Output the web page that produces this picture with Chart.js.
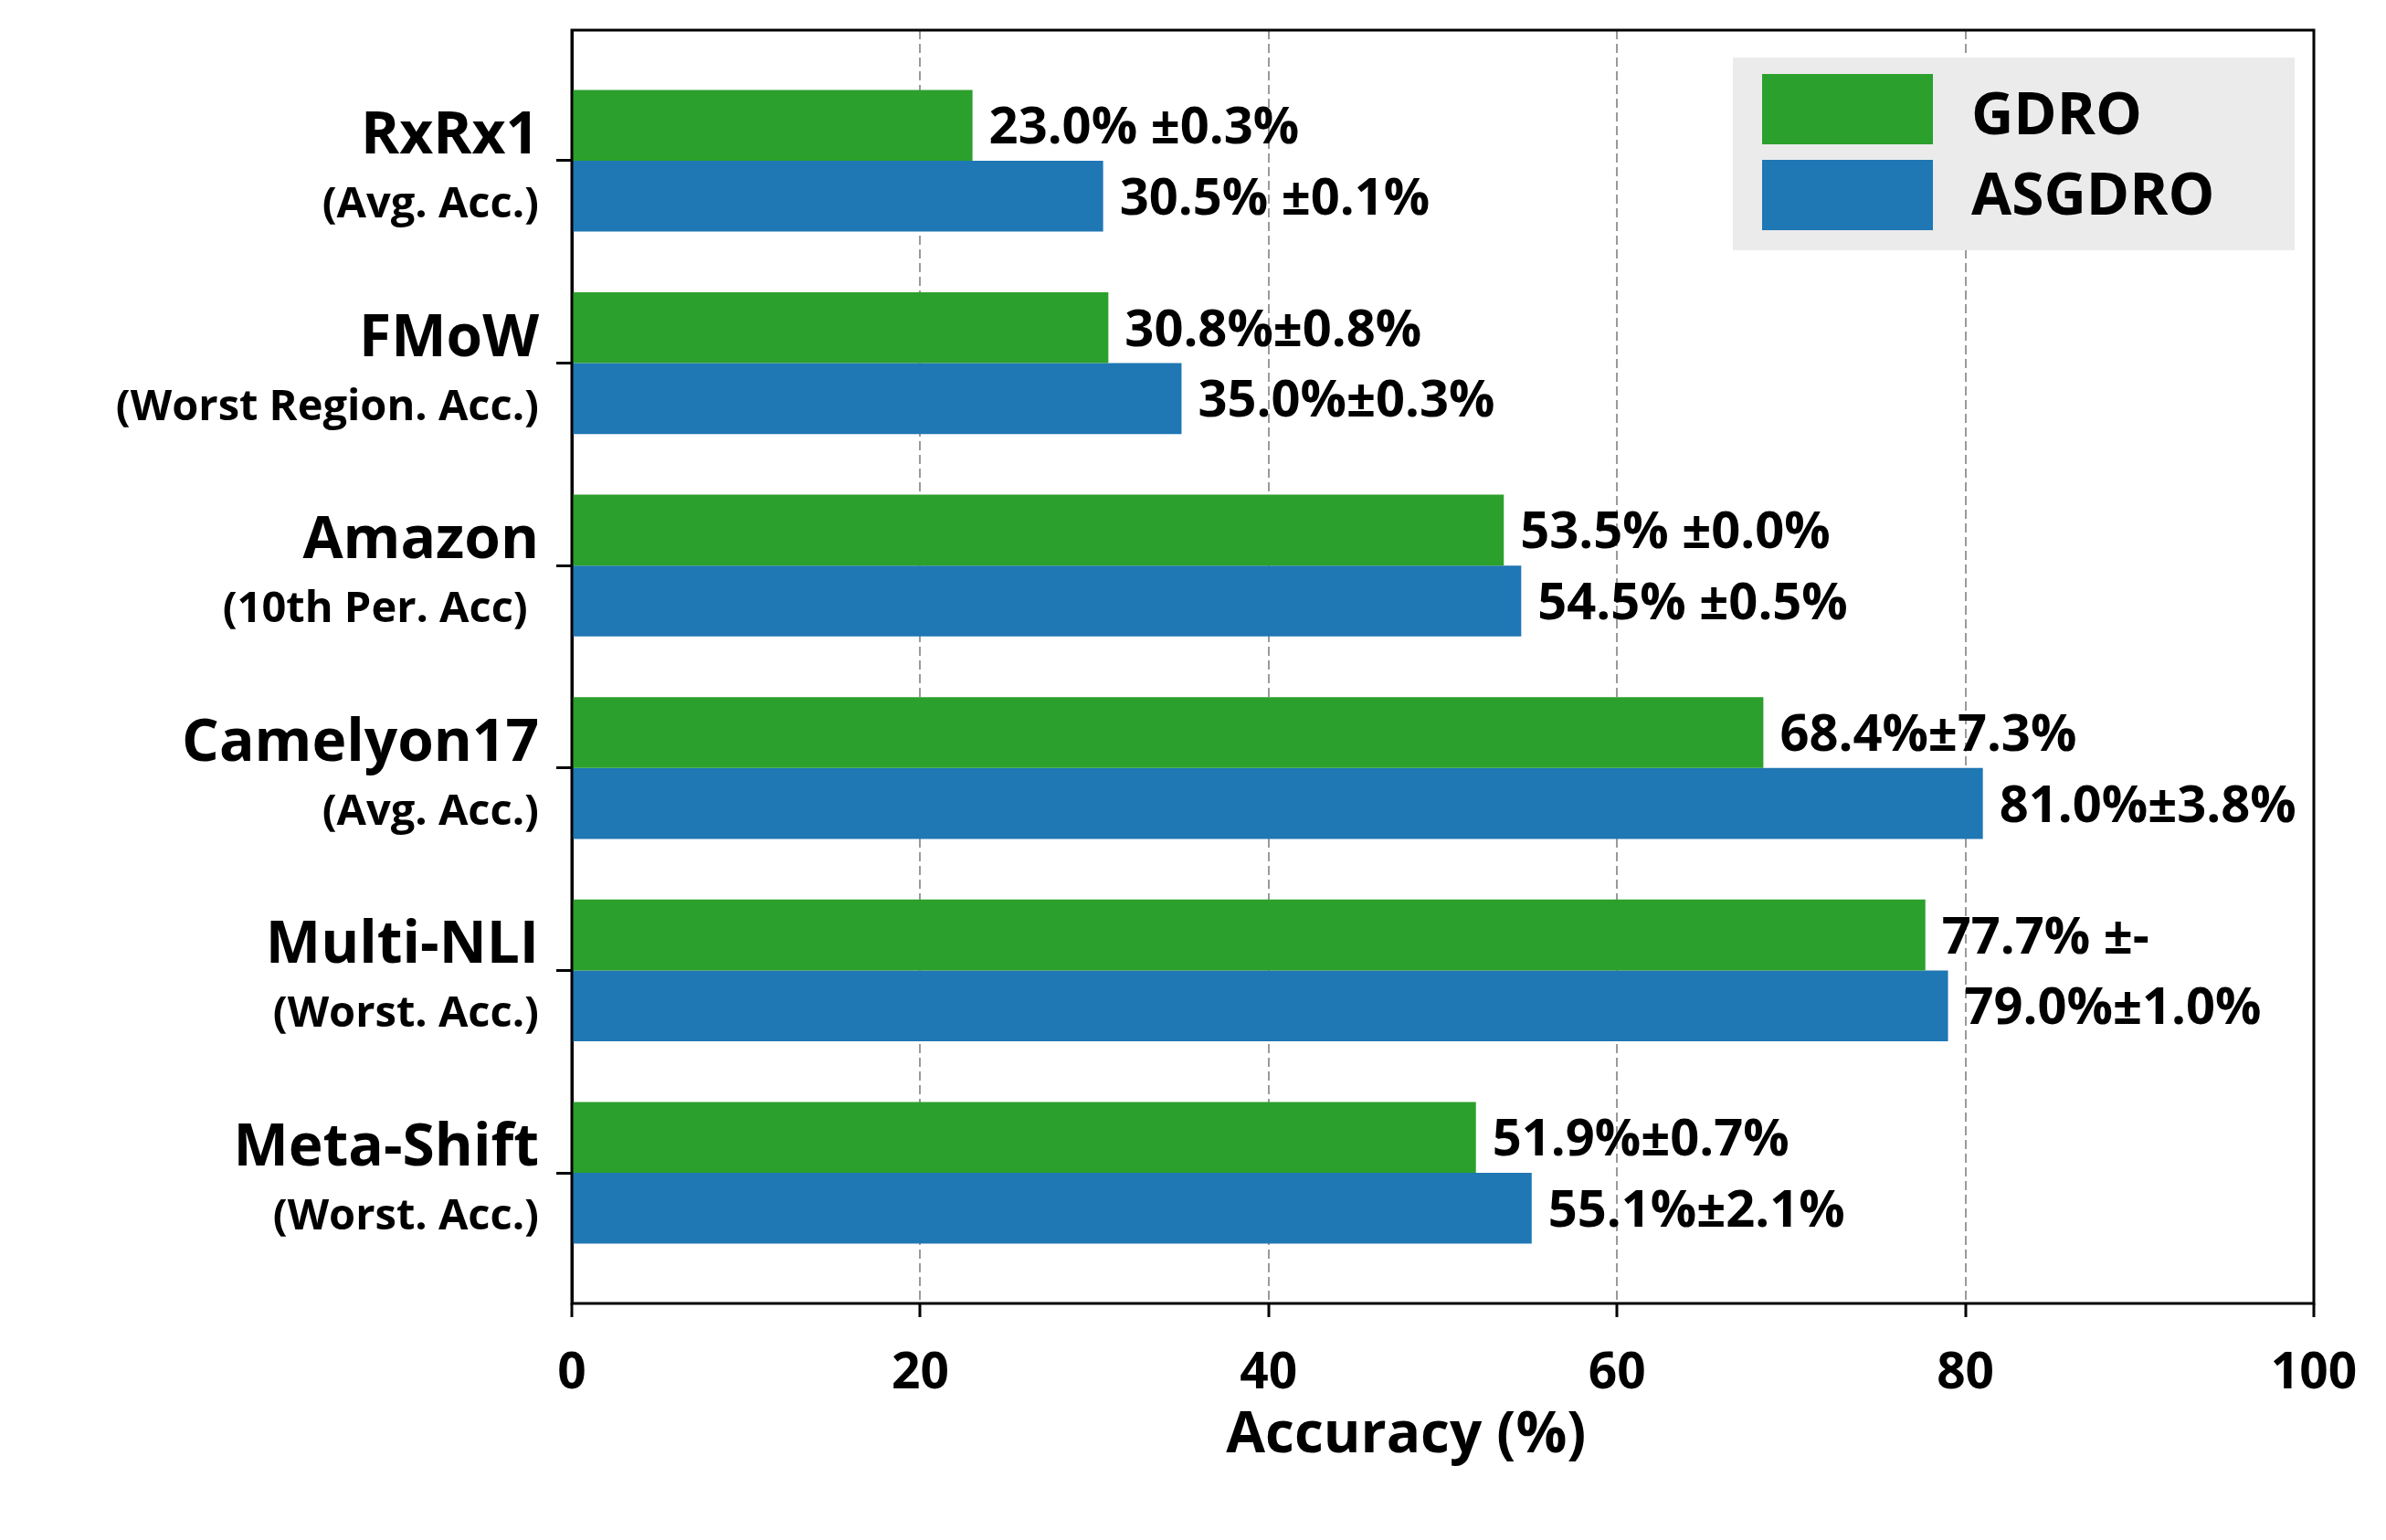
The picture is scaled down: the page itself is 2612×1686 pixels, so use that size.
<!DOCTYPE html>
<html>
<head>
<meta charset="utf-8">
<script src="https://cdn.jsdelivr.net/npm/chart.js@4.4.1/dist/chart.umd.min.js"></script>
<style>
  html, body { margin: 0; padding: 0; background: #fff; }
  #wrap { width: 2612px; height: 1686px; }
</style>
</head>
<body>
<div id="wrap"><canvas id="acc-chart"></canvas></div>
<script>
// data
const categories = ['RxRx1', 'FMoW', 'Amazon', 'Camelyon17', 'Multi-NLI', 'Meta-Shift'];
const subtitles = ['(Avg. Acc.)', '(Worst Region. Acc.)', '(10th Per. Acc) ', '(Avg. Acc.)', '(Worst. Acc.)', '(Worst. Acc.)'];
const gdroValues = [23.0, 30.8, 53.5, 68.4, 77.7, 51.9];
const asgdroValues = [30.5, 35.0, 54.5, 81.0, 79.0, 55.1];
const gdroText = ['23.0% \u00b10.3%', '30.8%\u00b10.8%', '53.5% \u00b10.0%', '68.4%\u00b17.3%', '77.7% \u00b1-', '51.9%\u00b10.7%'];
const asgdroText = ['30.5% \u00b10.1%', '35.0%\u00b10.3%', '54.5% \u00b10.5%', '81.0%\u00b13.8%', '79.0%\u00b11.0%', '55.1%\u00b12.1%'];
const xTicks = [0, 20, 40, 60, 80, 100];

const FONT = '"Open Sans", "Noto Sans", sans-serif';

// labels next to the bar ends, category names, legend and frame
const decorPlugin = {
    id: 'decor',
    afterDatasetsDraw(chart) {
        const ctx = chart.ctx;
        const area = chart.chartArea;
        // legend box (drawn before the gridlines so they show through it)
        const bx = area.right - 21 - 615, by = area.top + 30;
        ctx.save();
        ctx.fillStyle = '#ebebeb';
        ctx.fillRect(bx, by, 615, 211);
        chart.data.datasets.forEach((ds, i) => {
            ctx.fillStyle = ds.backgroundColor;
            ctx.fillRect(bx + 32, by + 18 + i * 94, 187, 77);
            ctx.fillStyle = '#000';
            ctx.font = 'bold 64px ' + FONT;
            ctx.textBaseline = 'middle';
            ctx.textAlign = 'left';
            ctx.fillText(ds.label, bx + 261, by + 66 + i * 88);
        });
        // value labels
        const texts = [gdroText, asgdroText];
        ctx.font = 'bold 56px ' + FONT;
        ctx.textBaseline = 'middle';
        chart.data.datasets.forEach((ds, d) => {
            chart.getDatasetMeta(d).data.forEach((bar, i) => {
                ctx.fillText(texts[d][i], bar.x + 18, bar.y + 4);
            });
        });
        ctx.restore();
    },
    afterDraw(chart) {
        const ctx = chart.ctx;
        const area = chart.chartArea;
        const yScale = chart.scales.y;
        ctx.save();
        ctx.fillStyle = '#000';
        ctx.textAlign = 'right';
        ctx.textBaseline = 'alphabetic';
        categories.forEach((name, i) => {
            const y = yScale.getPixelForValue(i);
            ctx.font = 'bold 64px ' + FONT;
            ctx.fillText(name, area.left - 36, y - 8);
            ctx.font = 'bold 47px ' + FONT;
            ctx.fillText(subtitles[i], area.left - 36, y + 62);
        });
        ctx.strokeStyle = '#000';
        ctx.lineWidth = 3;
        ctx.strokeRect(area.left, area.top, area.right - area.left, area.bottom - area.top);
        ctx.restore();
    }
};

new Chart(document.getElementById('acc-chart'), {
    type: 'bar',
    data: {
        datasets: [
            {
                label: 'GDRO',
                data: gdroValues.map((v, i) => ({ x: v, y: i })),
                backgroundColor: '#2ca02c',
            },
            {
                label: 'ASGDRO',
                data: asgdroValues.map((v, i) => ({ x: v, y: i })),
                backgroundColor: '#1f77b4',
            },
        ],
    },
    options: {
        indexAxis: 'y',
        responsive: true,
        maintainAspectRatio: false,
        devicePixelRatio: 1,
        animation: false,
        categoryPercentage: 0.7,
        barPercentage: 1.0,
        layout: { padding: { top: 33, right: 79, bottom: 0, left: 0 } },
        plugins: {
            legend: { display: false },
            tooltip: { enabled: false },
        },
        scales: {
            x: {
                type: 'linear',
                min: 0,
                max: 100,
                z: 1,
                afterBuildTicks: (scale) => { scale.ticks = xTicks.map(v => ({ value: v })); },
                afterFit: (scale) => { scale.height = 259; },
                grid: {
                    color: (c) => (c.tick && (c.tick.value === 0 || c.tick.value === 100)) ? 'rgba(0,0,0,0)' : '#9a9a9a',
                    lineWidth: 2,
                    drawTicks: true,
                    tickLength: 15,
                    tickColor: '#000',
                    tickWidth: 3,
                    tickBorderDash: [],
                },
                border: { display: false, dash: [10, 5] },
                ticks: {
                    color: '#000',
                    font: { family: FONT, size: 55, weight: 'bold' },
                    padding: 29,
                    maxRotation: 0,
                },
                title: {
                    display: true,
                    text: 'Accuracy (%)     ',
                    color: '#000',
                    font: { family: FONT, size: 62, weight: 'bold' },
                    padding: { top: 0, bottom: 76 },
                },
            },
            y: {
                type: 'linear',
                reverse: true,
                min: -0.645,
                max: 5.645,
                offset: false,
                afterBuildTicks: (scale) => { scale.ticks = categories.map((_, i) => ({ value: i })); },
                afterFit: (scale) => { scale.width = 626; },
                grid: {
                    offset: false,
                    drawOnChartArea: false,
                    drawTicks: true,
                    tickLength: 17,
                    tickColor: '#000',
                    tickWidth: 3,
                },
                border: { display: true, color: '#000', width: 3 },
                ticks: {
                    callback: () => '',
                    padding: 0,
                },
            },
        },
    },
    plugins: [decorPlugin],
});
</script>
</body>
</html>
